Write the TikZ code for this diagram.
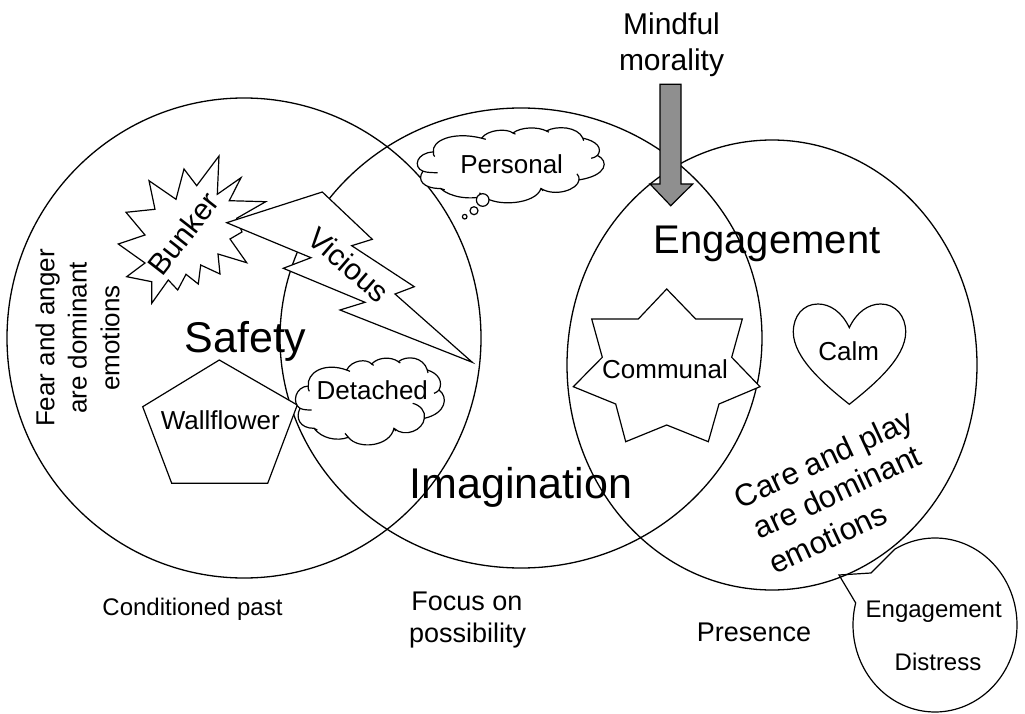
\documentclass[tikz,border=0pt]{standalone}
\usepackage{fontspec}
\setmainfont{Liberation Sans}
\definecolor{arrowgray}{gray}{0.56}
\tikzset{
  px/.style={x=1pt,y=-1pt},
  ring/.style={draw=black,line width=1.3pt,fill=none},
  shapeline/.style={draw=black,line width=1.2pt,fill=white,line join=miter},
  thinline/.style={draw=black,line width=1.2pt,fill=none},
  lbl/.style={inner sep=0pt,outer sep=0pt,anchor=base,text=black},
  fxxiv/.style={lbl,font=\fontsize{24}{28}\selectfont},
  fxxvi/.style={lbl,font=\fontsize{26}{30}\selectfont},
  fxxvii/.style={lbl,font=\fontsize{27}{31}\selectfont},
  fxxx/.style={lbl,font=\fontsize{30}{34}\selectfont},
  fxxxi/.style={lbl,font=\fontsize{31}{35}\selectfont},
  fxl/.style={lbl,font=\fontsize{40}{46}\selectfont},
  fxlii/.style={lbl,font=\fontsize{43}{48}\selectfont},
}
\newcommand{\cloudoutline}{(55,108) .. controls (50,70) and (100,35) .. (170,60)
  .. controls (185,30) and (230,25) .. (245,42)
  .. controls (265,20) and (305,20) .. (325,35)
  .. controls (350,15) and (400,20) .. (412,60)
  .. controls (445,70) and (460,95) .. (447,120)
  .. controls (475,140) and (470,190) .. (403,205)
  .. controls (400,240) and (345,265) .. (312,235)
  .. controls (300,290) and (205,300) .. (175,262)
  .. controls (140,275) and (95,265) .. (72,235)
  .. controls (30,235) and (15,205) .. (30,175)
  .. controls (5,160) and (15,110) .. (55,108) -- cycle}
\newcommand{\cloudtails}{(30,175) .. controls (40,180) and (55,180) .. (65,180)
  (55,108) .. controls (54,114) and (55,120) .. (58,124)
  (170,60) .. controls (173,62) and (176,63) .. (180,64)
  (245,42) .. controls (247,44) and (249,45) .. (251,46)
  (325,35) .. controls (327,37) and (329,38) .. (331,39)
  (412,60) .. controls (413,63) and (414,66) .. (414,69)
  (447,120) .. controls (443,125) and (438,128) .. (432,130)
  (312,235) .. controls (313,238) and (315,241) .. (317,243)
  (175,262) .. controls (171,258) and (168,254) .. (165,250)
  (72,235) .. controls (75,237) and (78,239) .. (82,240)}
\begin{document}
\begin{tikzpicture}[px]
\useasboundingbox (0,0) rectangle (1025,714);
% the three large ovals
\draw[ring] (244,338) ellipse [x radius=237,y radius=240];
\draw[ring] (521,338) ellipse [x radius=241,y radius=230];
\draw[ring] (772,365) ellipse [x radius=205,y radius=225];
% Bunker
\draw[shapeline] (219,156) -- (217.3,194.3) -- (241,177.7) -- (229.3,200.7) -- (265.7,201.7) -- (236.7,218.3) -- (242,232) -- (230,239) -- (246.7,262.7) -- (218,254) -- (220,274) -- (200.7,265) -- (198.3,284) -- (186,274.3) -- (177.7,290) -- (168.3,280) -- (151.7,303.3) -- (151.7,281.7) -- (126.7,276.7) -- (145,263) -- (118.3,244) -- (145,235) -- (126,212.3) -- (155,209.3) -- (149,180.7) -- (176,199.3) -- (184,169) -- (196.7,185.7) -- cycle;
% Vicious
\draw[shapeline] (226.7,222.7) -- (322.3,192) -- (372.3,239.3) -- (351.7,245.7) -- (414.3,286.7) -- (395,294) -- (472.3,362.3) -- (340,310) -- (365,302.3) -- (283.3,268.3) -- (311,257.7) -- cycle;
% Wallflower
\draw[shapeline] (219.3,360) -- (297.3,405) -- (267.7,483.3) -- (171.7,483.3) -- (142.7,406.7) -- cycle;
% Communal
\draw[shapeline] (666.7,289) -- (695.7,319) -- (742.3,319) -- (731.7,357.3) -- (760,386.7) -- (719,404) -- (708.3,441.7) -- (666.7,425) -- (625.7,441.7) -- (615.7,404) -- (573.3,386.7) -- (602.3,357.3) -- (591.7,319) -- (638.3,319) -- cycle;
% Calm
\draw[shapeline] (849.3,327.7) .. controls (842,312) and (830,304) .. (818,304) .. controls (803,304) and (793.3,316) .. (793.3,332) .. controls (793.3,358) and (825,385) .. (849.3,404.3) .. controls (873.6,385) and (905.7,358) .. (905.7,332) .. controls (905.7,316) and (895.6,304) .. (880.6,304) .. controls (868.6,304) and (856.6,312) .. (849.3,327.7) -- cycle;
% Detached cloud
\begin{scope}[shift={(290,350)},xscale=0.3333,yscale=0.3333]
  \draw[shapeline] \cloudoutline;
  \draw[thinline] \cloudtails;
  \draw[thinline] (403,205) .. controls (408,185) and (390,165) .. (368,160);
\end{scope}
% Personal cloud
\begin{scope}[shift={(410.4,120.9)},xscale=0.4185,yscale=0.2877]
  \draw[shapeline] \cloudoutline;
  \draw[thinline] \cloudtails;
  \draw[thinline] (403,205) .. controls (404,198) and (402,190) .. (398,184);
\end{scope}
\draw[shapeline] (482.7,200) circle [radius=6.3];
\draw[shapeline] (474,210.7) circle [radius=4];
\draw[shapeline] (464.7,216.7) circle [radius=2.3];
% callout
\draw[thinline,line join=miter] plot[domain=-119.2:194.7,samples=120,smooth] ({935+82*cos(\x)},{625+87*sin(\x)}) -- (839,575) -- (871,573) -- cycle;
% arrow
\draw[draw=black,line width=1.2pt,fill=arrowgray] (660,84.3) -- (681,84.3) -- (681,184) -- (692.7,184) -- (670.7,205.7) -- (650,184) -- (660,184) -- cycle;
% labels
\node[fxxx] (mindful) at (671.5,35) {Mindful};
\node[fxxx] (morality) at (671.5,70.7) {morality};
\node[fxxvi] (personal) at (511.7,174) {Personal};
\node[fxl] (engagementbig) at (767,253.6) {Engagement};
\node[fxxx,rotate=52] (bunker) at (191.7,240.3) {Bunker};
\node[fxxx,rotate=-41] (vicious) at (341.7,272.7) {Vicious};
\node[fxxvi,rotate=90] (fear) at (54.3,338) {Fear and anger};
\node[fxxvi,rotate=90] (dominant) at (86.7,338) {are dominant};
\node[fxxvi,rotate=90] (emotionsleft) at (119.3,338) {emotions};
\node[fxlii] (safety) at (245.5,352.7) {Safety};
\node[fxxvi] (wallflower) at (220.3,429.3) {Wallflower};
\node[fxxvi] (detached) at (372.3,399.3) {Detached};
\node[fxxvi] (communal) at (665,378.3) {Communal};
\node[fxxvi] (calm) at (848.7,360.7) {Calm};
\node[fxlii] (imagination) at (521,498) {Imagination};
\node[fxxxi,rotate=25] (care) at (828.3,468.3) {Care and play};
\node[fxxxi,rotate=25] (caredominant) at (841.7,501.7) {are dominant};
\node[fxxxi,rotate=25] (emotionsright) at (832.3,548.3) {emotions};
\node[fxxiv] (past) at (192.5,615.7) {Conditioned past};
\node[fxxvii] (focus) at (467,610) {Focus on};
\node[fxxvii] (possibility) at (467.7,642.7) {possibility};
\node[fxxvii] (presence) at (754,641.7) {Presence};
\node[fxxiv] (engagementsmall) at (933.7,617) {Engagement};
\node[fxxiv] (distress) at (938,670) {Distress};
\end{tikzpicture}
\end{document}
